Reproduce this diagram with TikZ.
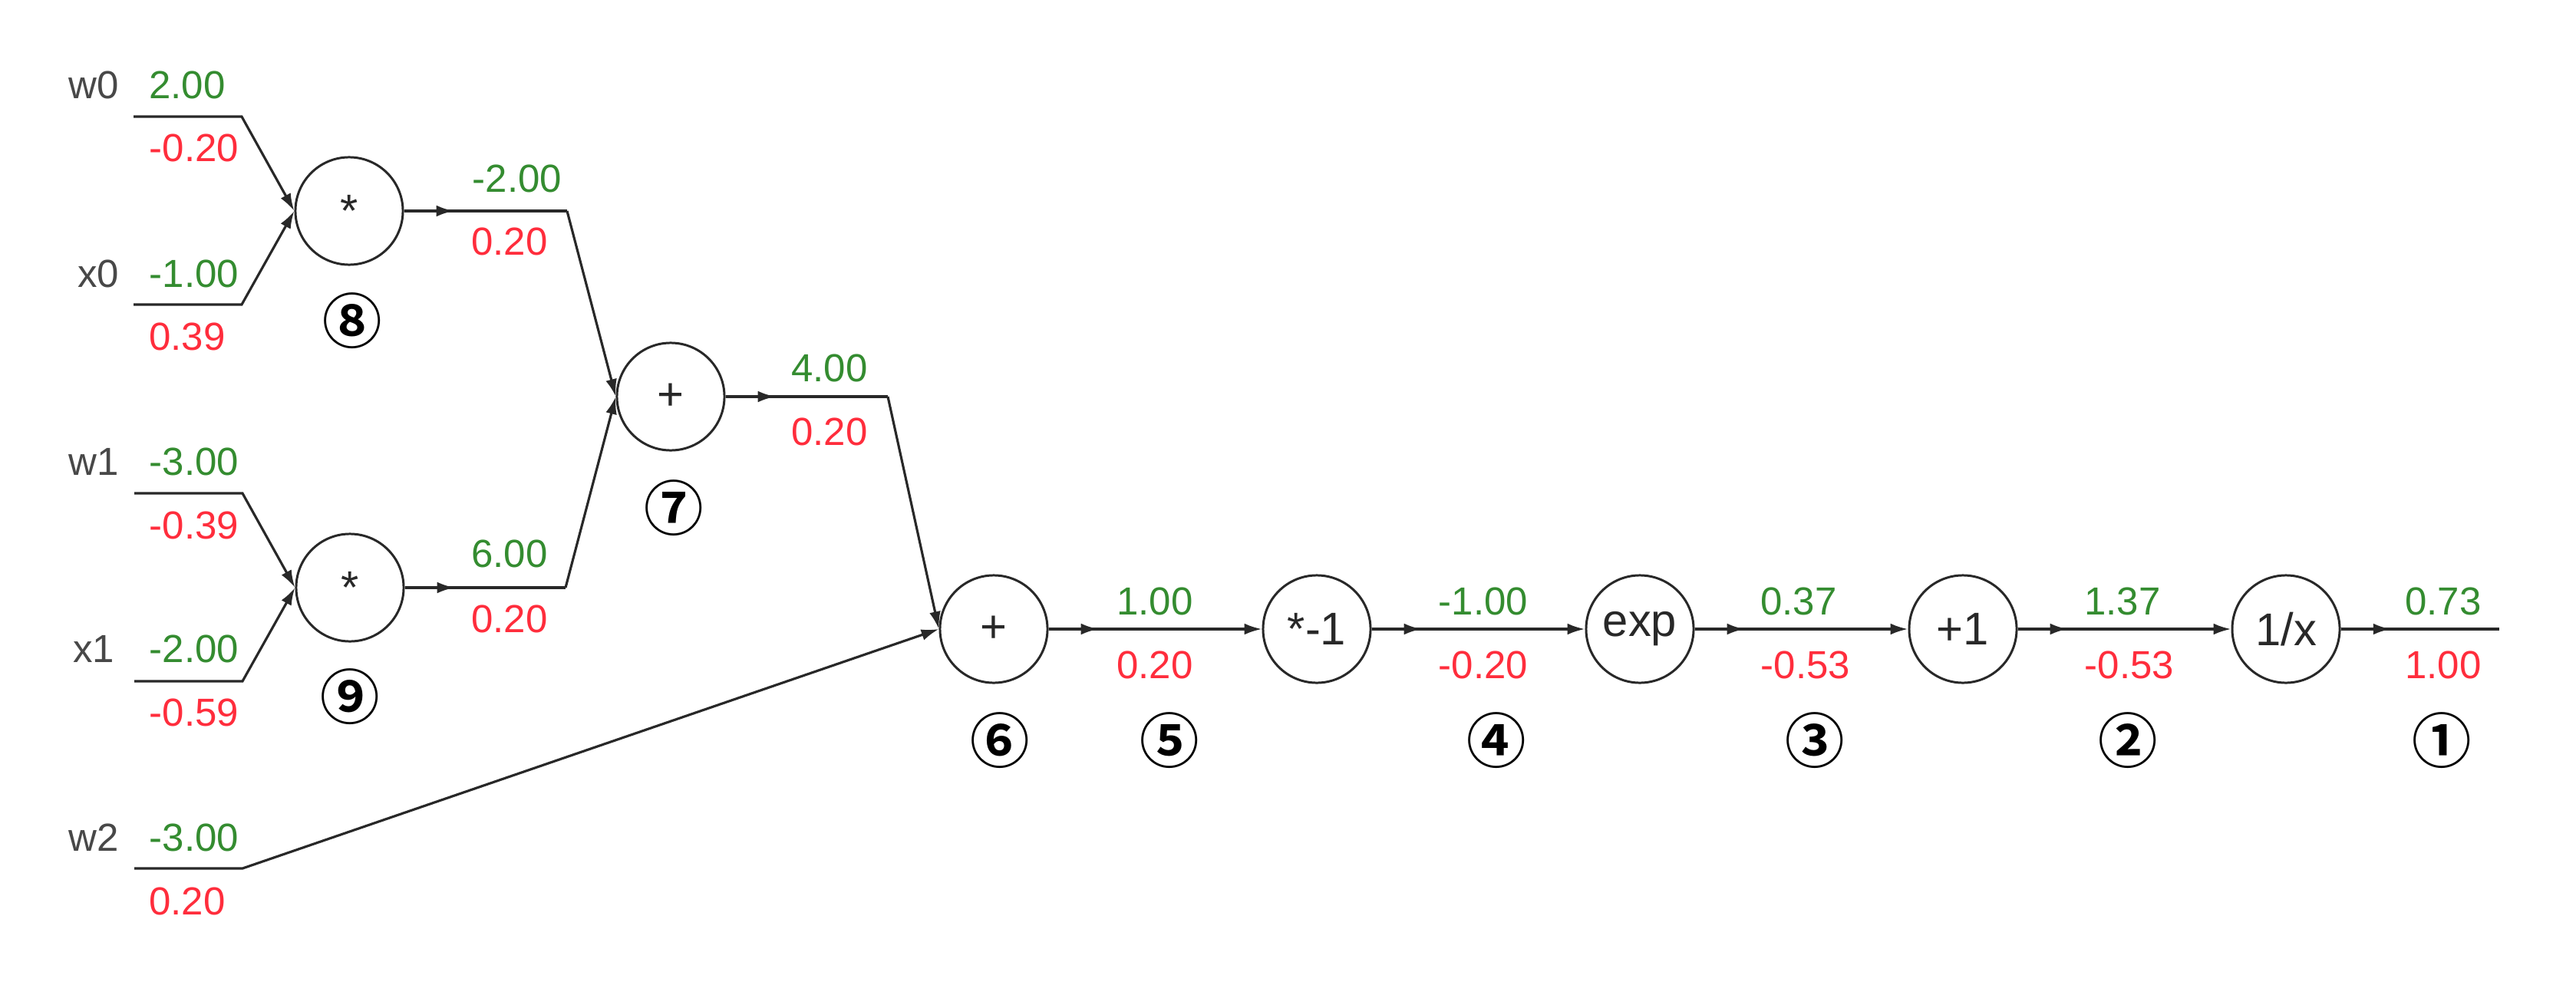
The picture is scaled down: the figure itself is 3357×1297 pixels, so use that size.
\documentclass[tikz,border=0pt]{standalone}
\usepackage{fontspec}
\setmainfont{Liberation Sans}
\newfontfamily\circfont{Noto Sans CJK KR}[BoldFont={* Bold}]
\usetikzlibrary{arrows.meta,decorations.markings}
\definecolor{fwd}{RGB}{52,140,48}
\definecolor{bwd}{RGB}{255,45,60}
\definecolor{ink}{RGB}{40,40,40}
\begin{document}
\begin{tikzpicture}[x=0.01cm,y=-0.01cm,
  gate/.style={circle,draw=ink,line width=0.85pt,minimum size=1.4cm,inner sep=0pt,
    font=\fontsize{17}{20}\selectfont,text=ink},
  wire/.style={line width=0.9pt,draw=ink},
  tipend/.style={-{Latex[length=6.5pt,width=4.2pt]}},
  outwire/.style={wire,postaction={decorate},decoration={markings,
    mark=at position 0.65cm with {\arrow{Latex[length=6.5pt,width=4.2pt]}}}},
  fv/.style={text=fwd,font=\fontsize{14.5}{17}\selectfont,inner sep=0pt},
  bv/.style={text=bwd,font=\fontsize{14.5}{17}\selectfont,inner sep=0pt},
  nm/.style={text=ink!85,font=\fontsize{14.5}{17}\selectfont,inner sep=0pt},
  stepnum/.style={font=\circfont\bfseries\fontsize{22}{24}\selectfont,inner sep=0pt,text=black}]
\useasboundingbox (0,0) rectangle (3357,1297);

% gates
\node[gate] (c8) at (455,275) {*};
\node[gate] (c9) at (456,766) {*};
\node[gate] (c7) at (874,517) {+};
\node[gate] (c6) at (1295,820) {+};
\node[gate] (cneg) at (1716,820) {*-1};
\node[gate] (cexp) at (2137,820) {exp};
\node[gate] (cp1) at (2558,820) {+1};
\node[gate] (cinv) at (2979,820) {1/x};

% wire coordinates
\coordinate (w0a) at (174,152); \coordinate (w0b) at (315,152);
\coordinate (x0a) at (174,397); \coordinate (x0b) at (315,397);
\coordinate (w1a) at (175,643); \coordinate (w1b) at (316,643);
\coordinate (x1a) at (175,888); \coordinate (x1b) at (316,888);
\coordinate (w2a) at (175,1132); \coordinate (w2b) at (316,1132);
\coordinate (o8) at (739,275);
\coordinate (o9) at (737,766);
\coordinate (o7) at (1157,517);
\coordinate (oend) at (3257,820);

% input wires
\draw[wire,tipend] (w0a) -- (w0b) -- (c8.west);
\draw[wire,tipend] (x0a) -- (x0b) -- (c8.west);
\draw[wire,tipend] (w1a) -- (w1b) -- (c9.west);
\draw[wire,tipend] (x1a) -- (x1b) -- (c9.west);
\draw[wire,tipend] (w2a) -- (w2b) -- (c6.west);

% gate outputs
\draw[outwire] (c8.east) -- (o8);
\draw[wire,tipend] (o8) -- (c7.west);
\draw[outwire] (c9.east) -- (o9);
\draw[wire,tipend] (o9) -- (c7.west);
\draw[outwire] (c7.east) -- (o7);
\draw[wire,tipend] (o7) -- (c6.west);
\draw[outwire,tipend] (c6.east) -- (cneg.west);
\draw[outwire,tipend] (cneg.east) -- (cexp.west);
\draw[outwire,tipend] (cexp.east) -- (cp1.west);
\draw[outwire,tipend] (cp1.east) -- (cinv.west);
\draw[outwire] (cinv.east) -- (oend);

% input names
\node[nm] (nw0) at (122,111) {w0};
\node[nm] (nx0) at (128,357) {x0};
\node[nm] (nw1) at (122,602) {w1};
\node[nm] (nx1) at (122,846) {x1};
\node[nm] (nw2) at (122,1092) {w2};

% forward / backward values
\node[fv] (fw0) at (244,111) {2.00};
\node[bv] (bw0) at (253,193) {-0.20};
\node[fv] (fx0) at (253,357) {-1.00};
\node[bv] (bx0) at (244,439) {0.39};
\node[fv] (fw1) at (253,602) {-3.00};
\node[bv] (bw1) at (253,685) {-0.39};
\node[fv] (fx1) at (253,846) {-2.00};
\node[bv] (bx1) at (253,929) {-0.59};
\node[fv] (fw2) at (253,1092) {-3.00};
\node[bv] (bw2) at (244,1175) {0.20};
\node[fv] (f8) at (674,233) {-2.00};
\node[bv] (b8) at (664,315) {0.20};
\node[fv] (f9) at (664,722) {6.00};
\node[bv] (b9) at (664,807) {0.20};
\node[fv] (f7) at (1081,480) {4.00};
\node[bv] (b7) at (1081,563) {0.20};
\node[fv] (f6) at (1505,784) {1.00};
\node[bv] (b6) at (1505,867) {0.20};
\node[fv] (fneg) at (1933,784) {-1.00};
\node[bv] (bneg) at (1933,867) {-0.20};
\node[fv] (fexp) at (2344,784) {0.37};
\node[bv] (bexp) at (2353,867) {-0.53};
\node[fv] (fp1) at (2766,784) {1.37};
\node[bv] (bp1) at (2775,867) {-0.53};
\node[fv] (finv) at (3184,784) {0.73};
\node[bv] (binv) at (3184,867) {1.00};

% step numbers
\node[stepnum] (s8) at (459,418) {⑧};
\node[stepnum] (s9) at (456,908) {⑨};
\node[stepnum] (s7) at (878,662) {⑦};
\node[stepnum] (s6) at (1303,965) {⑥};
\node[stepnum] (s5) at (1524,965) {⑤};
\node[stepnum] (s4) at (1950,965) {④};
\node[stepnum] (s3) at (2365,965) {③};
\node[stepnum] (s2) at (2773,965) {②};
\node[stepnum] (s1) at (3182,965) {①};
\end{tikzpicture}
\end{document}
